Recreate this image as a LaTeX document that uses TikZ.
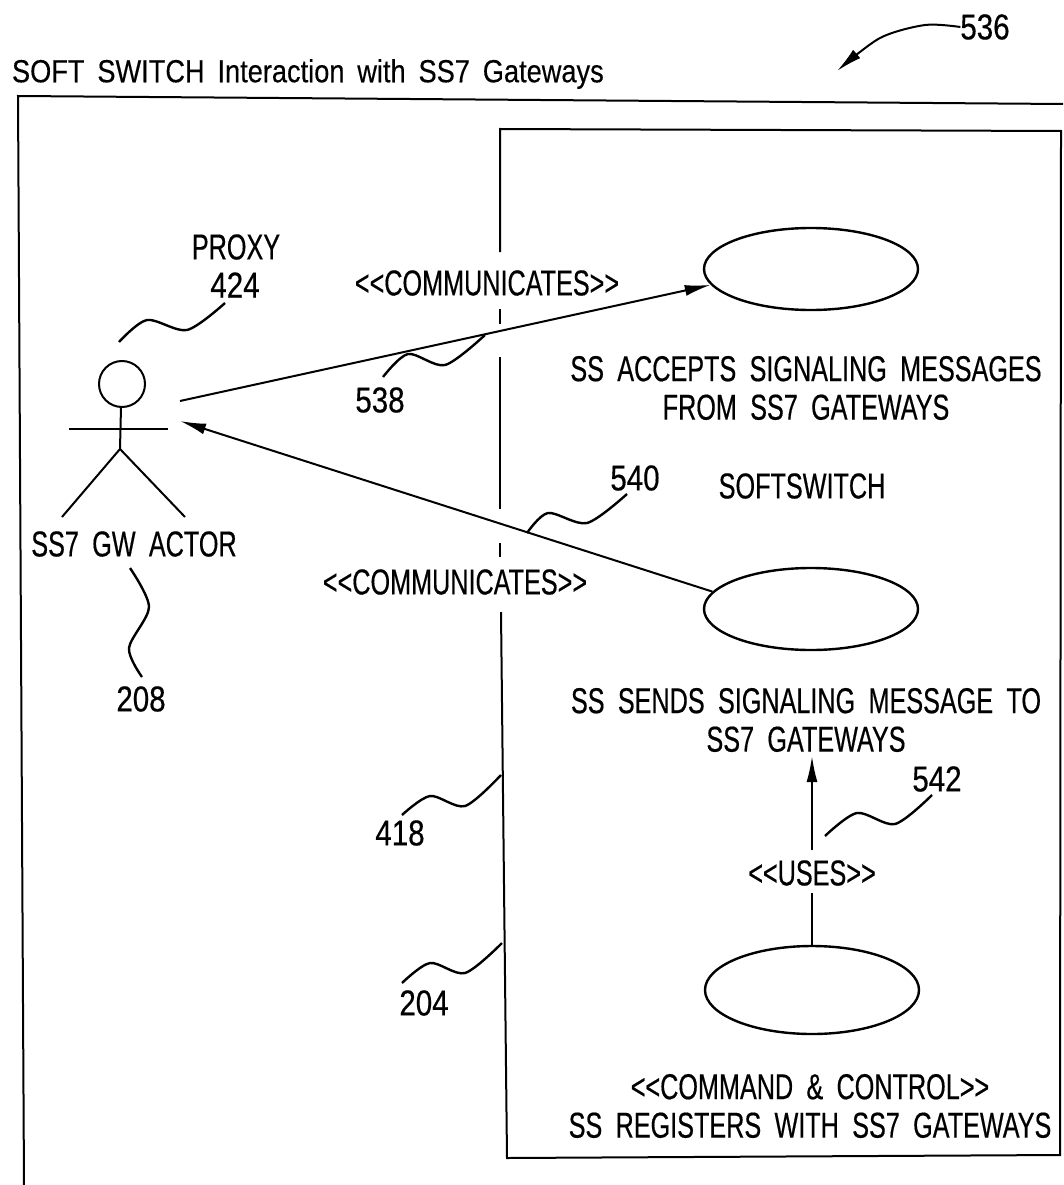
\documentclass[tikz,border=0pt]{standalone}
\usepackage{fontspec}
\setmainfont[FakeStretch=0.7, WordSpace=1.9, FakeBold=0.4]{Liberation Sans}
\newfontfamily\titlefont[FakeStretch=0.85, WordSpace=1.7, FakeBold=0.3]{Liberation Sans}
\newfontfamily\numfont[FakeStretch=0.82, FakeBold=0.4]{Liberation Sans}
\usetikzlibrary{arrows.meta, shapes.geometric}
\tikzset{
  lab/.style = {inner sep = 0, outer sep = 5pt, font = \fontsize{36}{38.5}\selectfont, align = center},
  num/.style = {lab, font = \numfont\fontsize{36}{38.5}\selectfont},
  usecase/.style = {draw, ellipse, line width = 2.4pt, minimum width = 214pt, minimum height = 82pt, inner sep = 0},
  flow/.style = {draw, line width = 2pt, -{Latex[length = 26pt, width = 11pt]}},
  lead/.style = {draw, line width = 2.4pt}
}
\begin{document}
\begin{tikzpicture}[x = 1pt, y = -1pt, line width = 2pt]
\useasboundingbox (0, 0) rectangle (1063, 1185);
% frame
\draw (1063, 104) -- (18, 96) -- (24, 1185);
\draw (500, 252) -- (500, 129) -- (1061, 131) -- (1060, 1155) -- (507, 1158) -- (501, 612);
\draw (500, 309) -- (500, 324);
\draw (500, 357) -- (500, 509);
\draw (500, 543) -- (500, 557);
% titles
\node[lab, anchor = west, outer sep = 0, font = \titlefont\fontsize{32}{38}\selectfont] (title) at (12, 74) {SOFT SWITCH Interaction with SS7 Gateways};
\node[num, outer sep = 0] (n536) at (985, 27) {536};
\coordinate (a536) at (837, 71);
\draw[flow] plot[smooth] coordinates {(n536.west) (925, 25) (880, 38) (a536)};
% actor
\draw (122, 384) circle(23);
\draw (121, 407) -- (120, 449);
\draw (69, 429) -- (168, 429);
\draw (120, 449) -- (62, 517);
\draw (120, 449) -- (185, 517);
\coordinate (actorout) at (180, 401);
\coordinate (actorin) at (180, 421);
\node[lab] (actor) at (134, 544) {SS7 GW ACTOR};
\node[lab] (proxy) at (236, 247) {PROXY};
\node[num] (n424) at (235, 285) {424};
\node[num] (n208) at (141, 699) {208};
\coordinate (c424) at (119, 342);
\coordinate (c208) at (130, 568);
\draw[lead] plot[smooth] coordinates {(c424) (147, 320) (187, 330) (225, 303)};
\draw[lead] plot[smooth] coordinates {(c208) (149, 607) (129, 648) (142, 677)};
% use cases
\node[usecase] (accept) at (811, 269) {};
\node[usecase] (send) at (811, 609) {};
\node[usecase, minimum height = 88pt] (register) at (812, 990) {};
\node[lab] (acceptlab) at (806, 388) {SS ACCEPTS SIGNALING MESSAGES\\FROM SS7 GATEWAYS};
\node[lab] (softswitch) at (802, 486) {SOFTSWITCH};
\node[lab] (sendlab) at (806, 720) {SS SENDS SIGNALING MESSAGE TO\\SS7 GATEWAYS};
\node[lab] (uses) at (812, 873) {<{}<USES>{}>};
\node[lab] (reglab) at (810, 1106) {<{}<COMMAND \& CONTROL>{}>\\SS REGISTERS WITH SS7 GATEWAYS};
\node[lab] (comm1) at (487, 283) {<{}<COMMUNICATES>{}>};
\node[lab] (comm2) at (455, 582) {<{}<COMMUNICATES>{}>};
% connectors
\draw[flow] (actorout) -- (accept.189);
\draw[flow] (send.170) -- (actorin);
\draw[flow] (uses.north) ++(0, -5) -- (812, 756);
\draw (uses.south) ++(0, 2) -- (register.north);
% reference numbers
\node[num] (n538) at (380, 400) {538};
\node[num] (n540) at (635, 478) {540};
\node[num] (n542) at (937, 779) {542};
\node[num] (n418) at (400, 833) {418};
\node[num] (n204) at (424, 1003) {204};
\coordinate (c538) at (383, 377);
\coordinate (c540) at (527, 533);
\coordinate (c542) at (825, 836);
\coordinate (c418) at (402, 815);
\coordinate (c204) at (402, 983);
\draw[lead] plot[smooth] coordinates {(c538) (408, 354) (445, 365) (485, 335)};
\draw[lead] plot[smooth] coordinates {(c540) (548, 513) (587, 523) (627, 494)};
\draw[lead] plot[smooth] coordinates {(c542) (857, 813) (895, 824) (932, 795)};
\draw[lead] plot[smooth] coordinates {(c418) (430, 796) (465, 806) (501, 775)};
\draw[lead] plot[smooth] coordinates {(c204) (430, 963) (465, 973) (502, 943)};
\end{tikzpicture}
\end{document}
